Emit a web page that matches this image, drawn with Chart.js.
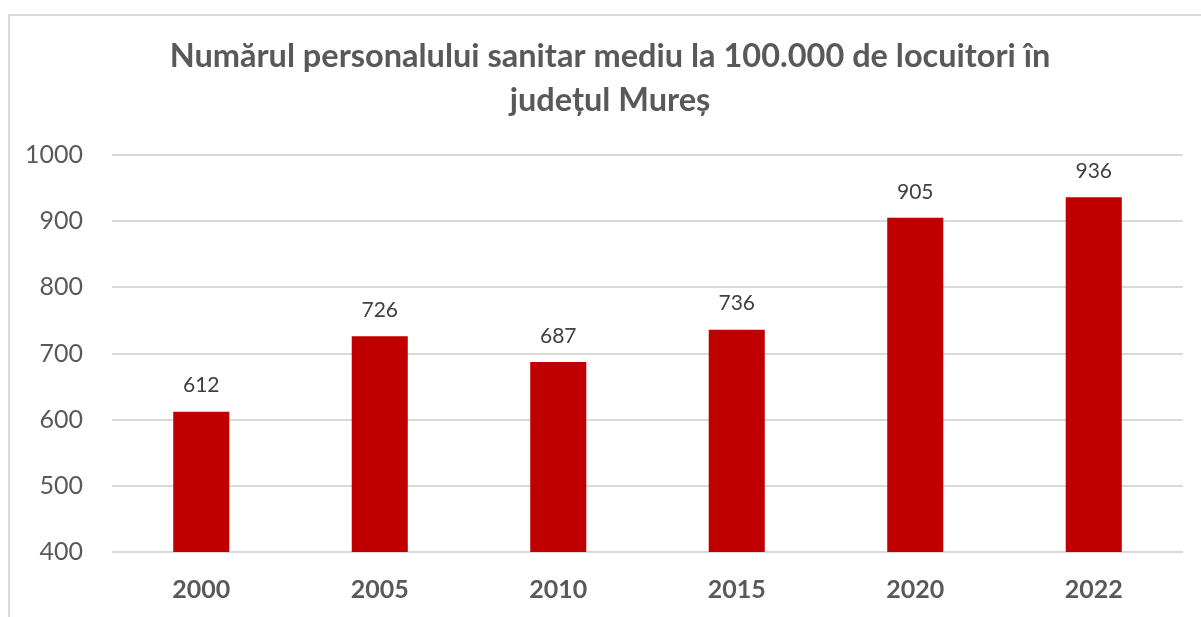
<!DOCTYPE html>
<html>
<head>
<meta charset="utf-8">
<script src="https://cdn.jsdelivr.net/npm/chart.js@4/dist/chart.umd.min.js"></script>
<style>
  body { margin: 0; background: #fff; }
  #frame { position: absolute; left: 8px; top: 14px; width: 1300px; height: 700px;
           border-top: 2px solid #d9d9d9; border-left: 2px solid #d9d9d9; }
  #wrap { position: absolute; left: 0; top: 0; width: 1201px; height: 617px; }
</style>
</head>
<body>
<div id="frame"></div>
<div id="wrap"><canvas id="myChart" width="1201" height="617"></canvas></div>
<script>
var years = ["2000", "2005", "2010", "2015", "2020", "2022"];
var personal = [612, 726, 687, 736, 905, 936];
var yTicks = [400, 500, 600, 700, 800, 900, 1000];
var titleLines = ["Numărul personalului sanitar mediu la 100.000 de locuitori în", "județul Mureș"];

var fontName = "Lato";
var grey = "#595959";

// value labels on top of each bar
var barLabels = {
    id: "barLabels",
    afterLayout: function(chart) {
        // the title is centred on the whole frame, not on the plot
        chart.titleBlock.left = 19;
        chart.titleBlock.right = 1201;
    },
    afterDatasetsDraw: function(chart) {
        var ctx = chart.ctx;
        var meta = chart.getDatasetMeta(0);
        ctx.save();
        ctx.font = "21px " + fontName;
        ctx.fillStyle = "#404040";
        ctx.textAlign = "center";
        ctx.textBaseline = "middle";
        meta.data.forEach(function(bar, i) {
            ctx.fillText(personal[i], bar.x, bar.y - 26);
        });
        ctx.restore();
    }
};

var config = {
    type: "bar",
    data: {
        labels: years,
        datasets: [{
            data: personal,
            backgroundColor: "#c00000",
            barPercentage: 0.314,
            categoryPercentage: 1
        }]
    },
    options: {
        responsive: false,
        animation: false,
        layout: { padding: { left: 0, right: 18, top: 0, bottom: 0 } },
        plugins: {
            legend: { display: false },
            tooltip: { enabled: false },
            title: {
                display: true,
                text: titleLines,
                color: grey,
                font: { family: fontName, size: 32.5, weight: "bold", lineHeight: 1.354 },
                padding: { top: 35, bottom: 32 }
            }
        },
        scales: {
            x: {
                grid: { display: false, drawTicks: false },
                border: { display: false },
                ticks: { color: grey, font: { family: fontName, size: 25, weight: "bold" }, padding: 23 },
                afterFit: function(scale) { scale.height = 65; }
            },
            y: {
                min: 400,
                max: 1000,
                afterBuildTicks: function(scale) {
                    scale.ticks = yTicks.map(function(v) { return { value: v }; });
                },
                grid: { color: "#d9d9d9", lineWidth: 2, drawTicks: false },
                border: { display: false },
                ticks: {
                    color: grey,
                    font: { family: fontName, size: 25 },
                    padding: 29,
                    callback: function(v) { return String(v); }
                },
                afterFit: function(scale) { scale.width = 112; }
            }
        }
    },
    plugins: [barLabels]
};

window.onload = function() {
    var ctx = document.getElementById("myChart").getContext("2d");
    window.myBar = new Chart(ctx, config);
};
</script>
</body>
</html>
